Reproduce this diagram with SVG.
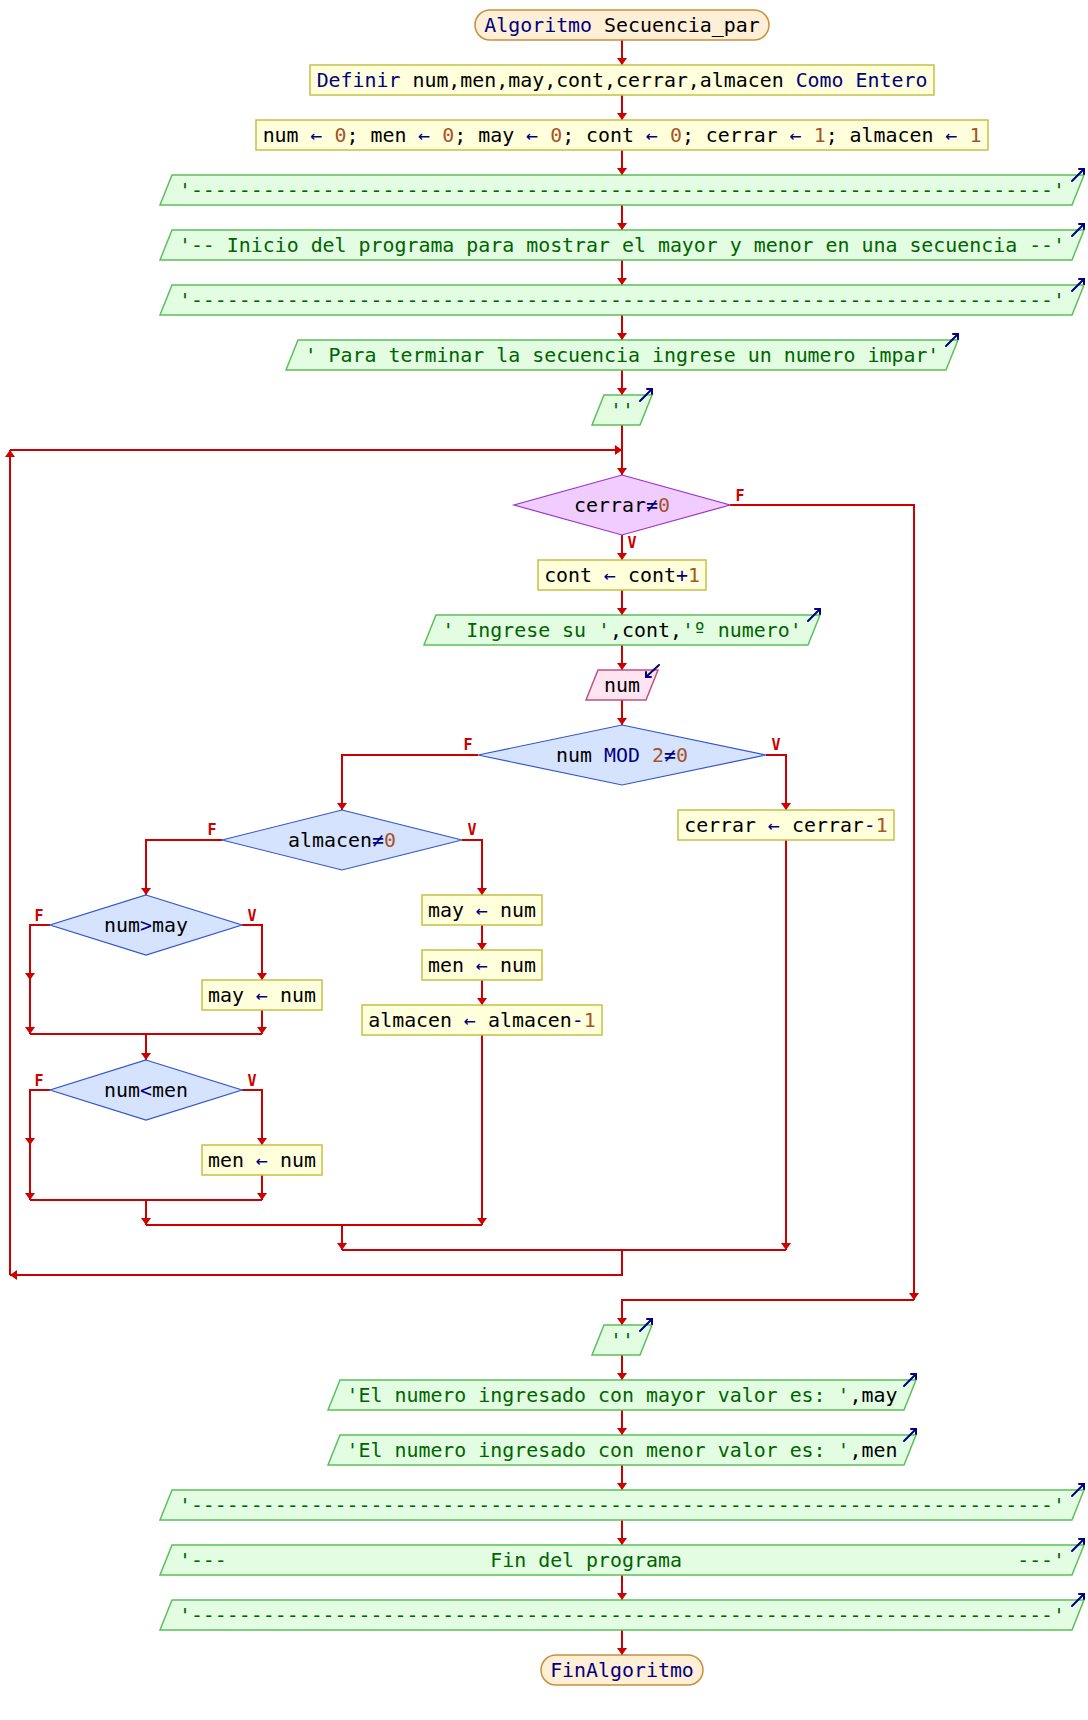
<svg xmlns="http://www.w3.org/2000/svg" xmlns:xlink="http://www.w3.org/1999/xlink" width="1088" height="1720" viewBox="0 0 1088 1720">
<style>
  text { font-family: "DejaVu Sans Mono", "Liberation Mono", monospace; font-size: 19.9px; text-anchor: middle; white-space: pre; fill: #000000; }
  .kw { fill: #000080; }
  .op { fill: #000080; }
  .num { fill: #a65428; }
  .str { fill: #006400; }
  .lbl { font-family: "DejaVu Sans Mono", monospace; font-size: 15px; font-weight: bold; fill: #cc0000; }
  .term { fill: #ffefd6; stroke: #c8903c; stroke-width: 1.5; }
  .proc { fill: #ffffdc; stroke: #c4c048; stroke-width: 1.5; }
  .out { fill: #e2fde2; stroke: #5cbf5c; stroke-width: 1.5; }
  .inp { fill: #ffe4f2; stroke: #c05080; stroke-width: 1.5; }
  .loop { fill: #f0ccff; stroke: #9933cc; stroke-width: 1.2; }
  .cond { fill: #d5e3ff; stroke: #3355cc; stroke-width: 1.2; }
  .ico { fill: none; stroke: #000080; stroke-width: 2; stroke-linecap: round; }
  #connectors path { fill: none; stroke: #cc0000; stroke-width: 2; }
  #connectors path.a { marker-end: url(#ah); }
</style>
<defs>
  <marker id="ah" markerUnits="userSpaceOnUse" viewBox="0 0 7 10" markerWidth="7" markerHeight="10" refX="7" refY="5" orient="auto">
    <path d="M0,0 L7,5 L0,10 z" fill="#cc0000"/>
  </marker>
  <!-- output icon: arrow leaving the top-right corner -->
  <g id="oi"><path class="ico" d="M-12,6 L0,-6 M-5,-6 H0 V-1"/></g>
  <!-- input icon: arrow entering the top-right corner -->
  <g id="ii"><path class="ico" d="M1,-5 L-12,7 M-12,2 V7 H-7"/></g>
</defs>

<rect width="1088" height="1720" fill="#ffffff"/>

<g id="connectors">
  <path class="a" d="M622,40 V65"/>
  <path class="a" d="M622,95 V120"/>
  <path class="a" d="M622,150 V175"/>
  <path class="a" d="M622,205 V230"/>
  <path class="a" d="M622,260 V285"/>
  <path class="a" d="M622,315 V340"/>
  <path class="a" d="M622,370 V395"/>
  <path class="a" d="M622,425 V475"/>
  <!-- loop body -->
  <path class="a" d="M622,535 V560"/>
  <path class="a" d="M622,590 V615"/>
  <path class="a" d="M622,645 V670"/>
  <path class="a" d="M622,700 V725"/>
  <path class="a" d="M478,755 H342 V810"/>
  <path class="a" d="M766,755 H786 V810"/>
  <path class="a" d="M222,840 H146 V895"/>
  <path class="a" d="M462,840 H482 V895"/>
  <path class="a" d="M482,925 V950"/>
  <path class="a" d="M482,980 V1005"/>
  <path class="a" d="M50,925 H30 V980"/>
  <path class="a" d="M30,980 V1034"/>
  <path class="a" d="M242,925 H262 V980"/>
  <path class="a" d="M262,1010 V1034"/>
  <path d="M30,1034 H262"/>
  <path class="a" d="M146,1034 V1060"/>
  <path class="a" d="M50,1090 H30 V1145"/>
  <path class="a" d="M30,1145 V1200"/>
  <path class="a" d="M242,1090 H262 V1145"/>
  <path class="a" d="M262,1175 V1200"/>
  <path d="M30,1200 H262"/>
  <path class="a" d="M146,1200 V1225"/>
  <path class="a" d="M482,1035 V1225"/>
  <path d="M146,1225 H482"/>
  <path class="a" d="M342,1225 V1250"/>
  <path class="a" d="M786,840 V1250"/>
  <path d="M342,1250 H786"/>
  <!-- back to the loop test -->
  <path class="a" d="M622,1250 V1275 H10"/>
  <path class="a" d="M10,1275 V450"/>
  <path class="a" d="M10,450 H622"/>
  <!-- loop exit -->
  <path class="a" d="M730,505 H914 V1300"/>
  <path class="a" d="M914,1300 H622 V1325"/>
  <path class="a" d="M622,1355 V1380"/>
  <path class="a" d="M622,1410 V1435"/>
  <path class="a" d="M622,1465 V1490"/>
  <path class="a" d="M622,1520 V1545"/>
  <path class="a" d="M622,1575 V1600"/>
  <path class="a" d="M622,1630 V1655"/>
  <!-- branch labels -->
  <text class="lbl" x="740" y="501">F</text>
  <text class="lbl" x="632" y="548">V</text>
  <text class="lbl" x="468" y="750">F</text>
  <text class="lbl" x="776" y="750">V</text>
  <text class="lbl" x="212" y="835">F</text>
  <text class="lbl" x="472" y="835">V</text>
  <text class="lbl" x="39" y="921">F</text>
  <text class="lbl" x="252" y="921">V</text>
  <text class="lbl" x="39" y="1086">F</text>
  <text class="lbl" x="252" y="1086">V</text>
</g>

<g id="inicio">
  <rect class="term" x="475" y="10" width="294" height="30" rx="15"/>
  <text x="622" y="32"><tspan class="kw">Algoritmo</tspan> Secuencia_par</text>
</g>

<g id="definir">
  <rect class="proc" x="310" y="65" width="624" height="30"/>
  <text x="622" y="87"><tspan class="kw">Definir</tspan> num,men,may,cont,cerrar,almacen <tspan class="kw">Como Entero</tspan></text>
</g>

<g id="init">
  <rect class="proc" x="256" y="120" width="732" height="30"/>
  <text x="622" y="142">num <tspan class="op">←</tspan> <tspan class="num">0</tspan>; men <tspan class="op">←</tspan> <tspan class="num">0</tspan>; may <tspan class="op">←</tspan> <tspan class="num">0</tspan>; cont <tspan class="op">←</tspan> <tspan class="num">0</tspan>; cerrar <tspan class="op">←</tspan> <tspan class="num">1</tspan>; almacen <tspan class="op">←</tspan> <tspan class="num">1</tspan></text>
</g>

<g id="sep1">
  <polygon class="out" points="172,175 1084,175 1072,205 160,205"/>
  <text class="str" x="622" y="197">'------------------------------------------------------------------------'</text>
  <use href="#oi" transform="translate(1084,175)"/>
</g>

<g id="titulo">
  <polygon class="out" points="172,230 1084,230 1072,260 160,260"/>
  <text class="str" x="622" y="252">'-- Inicio del programa para mostrar el mayor y menor en una secuencia --'</text>
  <use href="#oi" transform="translate(1084,230)"/>
</g>

<g id="sep2">
  <polygon class="out" points="172,285 1084,285 1072,315 160,315"/>
  <text class="str" x="622" y="307">'------------------------------------------------------------------------'</text>
  <use href="#oi" transform="translate(1084,285)"/>
</g>

<g id="aviso">
  <polygon class="out" points="298,340 958,340 946,370 286,370"/>
  <text class="str" x="622" y="362">' Para terminar la secuencia ingrese un numero impar'</text>
  <use href="#oi" transform="translate(958,340)"/>
</g>

<g id="vacio1">
  <polygon class="out" points="604,395 652,395 640,425 592,425"/>
  <text class="str" x="622" y="417">''</text>
  <use href="#oi" transform="translate(652,395)"/>
</g>

<g id="mientras">
  <polygon class="loop" points="622,475 730,505 622,535 514,505"/>
  <text x="622" y="512">cerrar<tspan class="op">≠</tspan><tspan class="num">0</tspan></text>
</g>

<g id="contador">
  <rect class="proc" x="538" y="560" width="168" height="30"/>
  <text x="622" y="582">cont <tspan class="op">←</tspan> cont<tspan class="op">+</tspan><tspan class="num">1</tspan></text>
</g>

<g id="pedir">
  <polygon class="out" points="436,615 820,615 808,645 424,645"/>
  <text x="622" y="637"><tspan class="str">' Ingrese su '</tspan>,cont,<tspan class="str">'º numero'</tspan></text>
  <use href="#oi" transform="translate(820,615)"/>
</g>

<g id="leer">
  <polygon class="inp" points="598,670 658,670 646,700 586,700"/>
  <text x="622" y="692">num</text>
  <use href="#ii" transform="translate(658,670)"/>
</g>

<g id="si_impar">
  <polygon class="cond" points="622,725 766,755 622,785 478,755"/>
  <text x="622" y="762">num <tspan class="kw">MOD</tspan> <tspan class="num">2</tspan><tspan class="op">≠</tspan><tspan class="num">0</tspan></text>
</g>

<g id="cerrar_menos">
  <rect class="proc" x="678" y="810" width="216" height="30"/>
  <text x="786" y="832">cerrar <tspan class="op">←</tspan> cerrar<tspan class="op">-</tspan><tspan class="num">1</tspan></text>
</g>

<g id="si_almacen">
  <polygon class="cond" points="342,810 462,840 342,870 222,840"/>
  <text x="342" y="847">almacen<tspan class="op">≠</tspan><tspan class="num">0</tspan></text>
</g>

<g id="may_inicial">
  <rect class="proc" x="422" y="895" width="120" height="30"/>
  <text x="482" y="917">may <tspan class="op">←</tspan> num</text>
</g>

<g id="men_inicial">
  <rect class="proc" x="422" y="950" width="120" height="30"/>
  <text x="482" y="972">men <tspan class="op">←</tspan> num</text>
</g>

<g id="almacen_menos">
  <rect class="proc" x="362" y="1005" width="240" height="30"/>
  <text x="482" y="1027">almacen <tspan class="op">←</tspan> almacen<tspan class="op">-</tspan><tspan class="num">1</tspan></text>
</g>

<g id="si_mayor">
  <polygon class="cond" points="146,895 242,925 146,955 50,925"/>
  <text x="146" y="932">num<tspan class="op">&gt;</tspan>may</text>
</g>

<g id="nuevo_mayor">
  <rect class="proc" x="202" y="980" width="120" height="30"/>
  <text x="262" y="1002">may <tspan class="op">←</tspan> num</text>
</g>

<g id="si_menor">
  <polygon class="cond" points="146,1060 242,1090 146,1120 50,1090"/>
  <text x="146" y="1097">num<tspan class="op">&lt;</tspan>men</text>
</g>

<g id="nuevo_menor">
  <rect class="proc" x="202" y="1145" width="120" height="30"/>
  <text x="262" y="1167">men <tspan class="op">←</tspan> num</text>
</g>

<g id="vacio2">
  <polygon class="out" points="604,1325 652,1325 640,1355 592,1355"/>
  <text class="str" x="622" y="1347">''</text>
  <use href="#oi" transform="translate(652,1325)"/>
</g>

<g id="mostrar_mayor">
  <polygon class="out" points="340,1380 916,1380 904,1410 328,1410"/>
  <text x="622" y="1402"><tspan class="str">'El numero ingresado con mayor valor es: '</tspan>,may</text>
  <use href="#oi" transform="translate(916,1380)"/>
</g>

<g id="mostrar_menor">
  <polygon class="out" points="340,1435 916,1435 904,1465 328,1465"/>
  <text x="622" y="1457"><tspan class="str">'El numero ingresado con menor valor es: '</tspan>,men</text>
  <use href="#oi" transform="translate(916,1435)"/>
</g>

<g id="sep3">
  <polygon class="out" points="172,1490 1084,1490 1072,1520 160,1520"/>
  <text class="str" x="622" y="1512">'------------------------------------------------------------------------'</text>
  <use href="#oi" transform="translate(1084,1490)"/>
</g>

<g id="fin_texto">
  <polygon class="out" points="172,1545 1084,1545 1072,1575 160,1575"/>
  <text class="str" x="622" y="1567">'---                      Fin del programa                            ---'</text>
  <use href="#oi" transform="translate(1084,1545)"/>
</g>

<g id="sep4">
  <polygon class="out" points="172,1600 1084,1600 1072,1630 160,1630"/>
  <text class="str" x="622" y="1622">'------------------------------------------------------------------------'</text>
  <use href="#oi" transform="translate(1084,1600)"/>
</g>

<g id="fin">
  <rect class="term" x="541" y="1655" width="162" height="30" rx="15"/>
  <text class="kw" x="622" y="1677">FinAlgoritmo</text>
</g>
</svg>
